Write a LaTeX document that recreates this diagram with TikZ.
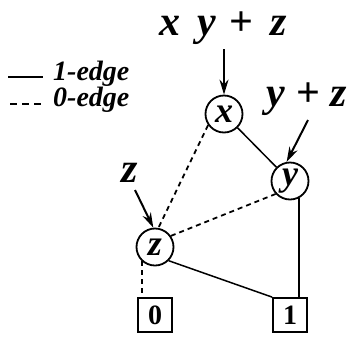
\documentclass[tikz,border=0pt]{standalone}
\usepackage{fontspec}
\setmainfont{Liberation Serif}
\usetikzlibrary{arrows.meta,positioning}

\begin{document}
\begin{tikzpicture}[x=1pt,y=-1pt,
    vnode/.style={circle,draw,line width=1.8pt,minimum size=37pt,inner sep=0pt,
      font=\fontsize{36}{36}\selectfont\bfseries\itshape},
    leaf/.style={rectangle,draw,line width=1.8pt,minimum size=34pt,inner sep=0pt,
      font=\fontsize{28}{28}\selectfont\bfseries},
    oneedge/.style={line width=1.5pt},
    zeroedge/.style={line width=1.8pt,dash pattern=on 5pt off 4pt},
    ptr/.style={line width=2pt,-{Stealth[length=15pt,width=9pt]}},
    lbl/.style={inner sep=0pt,font=\fontsize{42}{42}\selectfont\bfseries\itshape},
    legend/.style={inner sep=0pt,anchor=west,font=\fontsize{28}{28}\selectfont\bfseries\itshape}]
  \useasboundingbox (0,0) rectangle (348,338);
  % BDD nodes
  \node[vnode] (x) at (224,114) {x};
  \node[vnode] (y) at (290,181) {y};
  \node[vnode] (z) at (155,247) {z};
  \node[leaf] (zero) at (155,315) {0};
  \node[leaf] (one) at (290,315) {1};
  % edges
  \draw[oneedge] (x) -- (y);
  \draw[zeroedge] (x.215) -- (z.80);
  \draw[zeroedge] (z.35) -- (y.222);
  \draw[oneedge] (y.-62) -- (y.-62 |- one.north);
  \draw[oneedge] (z.-45) -- (one.north west);
  \draw[zeroedge] (z.227) -- (z.227 |- zero.north);
  % function labels
  \node[lbl] (fx) at (223,28) {x\hspace{17pt}y\hspace{14pt}\upshape+\hspace{17pt}\itshape z};
  \node[lbl,anchor=east] (fy) at (347,99) {y \upshape+ \itshape z};
  \node[lbl] (fz) at (130,173) {z};
  \coordinate (px) at (224,49);
  \coordinate (py) at (308,120);
  \coordinate (pz) at (135,190);
  \draw[ptr] (px) -- (x.north);
  \draw[ptr] (py) -- (y.100);
  \draw[ptr] (pz) -- (z.95);
  % legend
  \coordinate (s1) at (8,77);
  \coordinate (s2) at (43,77);
  \coordinate (d1) at (10,104);
  \coordinate (d2) at (45,104);
  \draw[oneedge] (s1) -- (s2);
  \draw[zeroedge,dash pattern=on 7pt off 5pt] (d1) -- (d2);
  \node[legend] (l1) at (53,74) {1-edge};
  \node[legend] (l0) at (53,100) {0-edge};
\end{tikzpicture}
\end{document}
